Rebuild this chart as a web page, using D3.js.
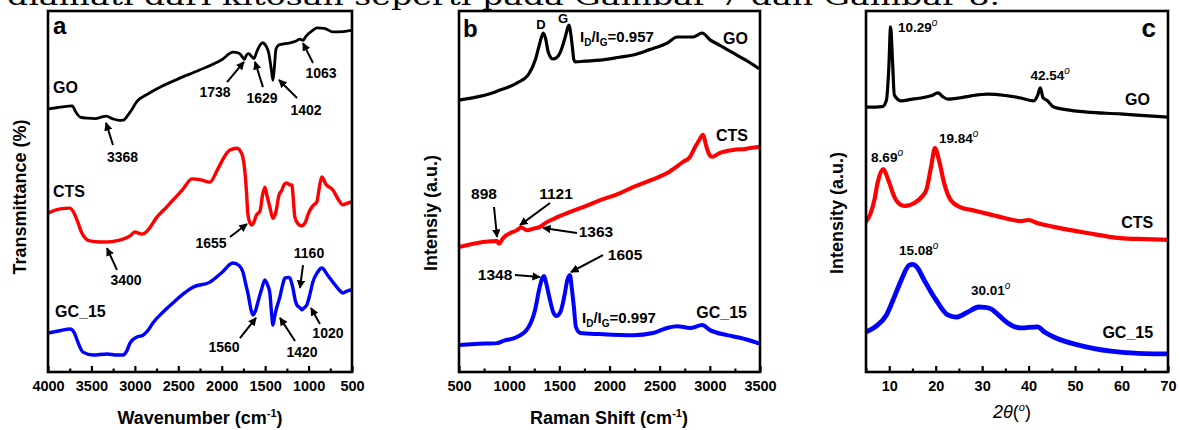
<!DOCTYPE html>
<html><head><meta charset="utf-8">
<script src="https://cdn.jsdelivr.net/npm/d3@7"></script>
<style>body{margin:0;background:#fff}svg{display:block}text{font-family:"Liberation Sans",Arial,sans-serif}</style>
</head><body><svg id="chart" width="1180" height="430"></svg>
<script>
// ---------- DATA ----------
// Panel a: FTIR (wavenumber cm-1, transmittance a.u.)
const ftirGO = [[4000,72.9],[3900,73.2],[3780,73.6],[3720,73.7],[3680,72],[3630,70.6],[3550,70.3],[3450,70.2],[3400,70.5],[3330,70.9],[3260,70.2],[3180,69.7],[3130,69.8],[3090,70.8],[3040,72.5],[2980,74.8],[2850,77],[2700,79],[2500,81.2],[2250,83.7],[2000,86.5],[1870,88.6],[1800,88.3],[1760,87.2],[1738,86.6],[1715,87.8],[1690,88.2],[1655,87.4],[1629,86.8],[1600,88.5],[1560,90.5],[1530,91.2],[1490,90.3],[1460,88.5],[1430,84],[1410,80.8],[1395,84],[1375,89.5],[1340,90.6],[1250,91],[1150,91.6],[1100,92.2],[1063,91.9],[1030,93],[960,94.5],[900,95.3],[820,95.2],[720,94.2],[600,94.3],[500,94.7]];
const ftirCTS = [[4000,44],[3860,45.2],[3750,45.4],[3700,44],[3666,42.1],[3610,38.5],[3520,36.3],[3400,36],[3320,36],[3200,36.4],[3137,36.8],[3050,37.8],[2999,38.8],[2960,38.5],[2918,38.2],[2870,38.8],[2849,39.3],[2746,42.9],[2650,45.3],[2562,47.6],[2450,50.5],[2343,53.5],[2250,53.3],[2136,52.6],[2050,56],[1960,60],[1906,61.5],[1825,62],[1770,60.5],[1740,57],[1715,50],[1700,44],[1676,41.3],[1655,40.7],[1630,41.5],[1600,43.5],[1560,44.5],[1530,49],[1503,51.2],[1480,49],[1446,45.7],[1411,42.6],[1380,44],[1340,49],[1307,50.4],[1280,52],[1250,52.4],[1210,51.8],[1192,51.8],[1170,46],[1158,42.9],[1120,41],[1080,40.5],[1043,41.2],[1000,44],[962,45.7],[930,46.5],[905,47.1],[870,52],[847,54],[800,52],[720,50.4],[650,47.5],[605,46.3],[550,46.8],[502,47.1]];
const ftirGC15 = [[4000,10.8],[3850,11.5],[3747,11.9],[3700,11],[3666,8.9],[3597,5.5],[3482,4.7],[3321,5.0],[3206,4.7],[3137,4.7],[3090,6],[3056,8.0],[2976,9.7],[2907,10.2],[2850,11.5],[2792,13.6],[2680,16.5],[2562,19.1],[2450,21.5],[2331,23.5],[2136,24.9],[2000,27.5],[1871,30.2],[1800,29.5],[1756,27.7],[1720,24],[1699,21.9],[1660,17],[1641,15.8],[1610,17],[1583,19.4],[1540,23],[1503,25.5],[1470,24],[1446,21.9],[1425,16],[1411,13.0],[1390,15.5],[1365,18],[1330,20.8],[1300,24],[1273,26],[1230,26.2],[1215,26],[1181,23.3],[1150,19.5],[1135,18.6],[1100,17.8],[1077,17.2],[1050,17.8],[1020,18.6],[980,22],[951,24.9],[900,27.5],[847,28.8],[780,26.8],[720,24.9],[650,22.8],[605,21.9],[550,22.5],[502,22.7]];
// Panel b: Raman (shift cm-1, intensity a.u.)
const ramanGO = [[500,75.3],[680,76.2],[800,77],[910,78.1],[1000,79],[1080,80.1],[1190,82.3],[1260,86.4],[1300,90.5],[1340,93.9],[1362,92.5],[1390,88.6],[1437,86.7],[1470,87],[1507,88.4],[1540,91],[1565,93.4],[1595,96.1],[1615,93.5],[1630,90],[1645,86.5],[1660,85.9],[1750,86.1],[1906,86.4],[2100,87.2],[2235,87.8],[2400,89.3],[2574,91.1],[2674,92.8],[2833,92.8],[2923,93.9],[3002,92],[3100,90.5],[3232,88.4],[3350,86.5],[3481,84.2]];
const ramanCTS = [[500,34.6],[740,36],[880,36.3],[898,35.5],[915,36],[940,37.1],[1078,39.3],[1121,40],[1178,39.3],[1250,39.8],[1308,40.2],[1363,41.3],[1450,42.5],[1577,44],[1750,45.8],[1906,47.6],[2100,49.5],[2235,51.2],[2400,53],[2574,55.1],[2733,58.2],[2800,59.5],[2853,62.3],[2883,63.7],[2933,65.7],[2960,63],[2990,60.5],[3022,59.6],[3102,60.7],[3232,61.5],[3350,61.8],[3481,62.3]];
const ramanGC15 = [[500,7.5],[700,7.8],[880,8],[950,8.7],[1078,9.7],[1188,12.2],[1258,17.2],[1300,23],[1330,26],[1348,26.6],[1370,24.5],[1400,20.8],[1440,16.5],[1470,15.5],[1510,16.6],[1550,21],[1580,25.5],[1605,26.9],[1625,23],[1645,18],[1665,12.5],[1710,10.8],[1906,10.5],[2235,10.2],[2434,10.8],[2574,12.2],[2674,12.7],[2803,12.2],[2923,13],[3002,11.6],[3172,10.2],[3300,9.5],[3481,8]];
// Panel c: XRD (2theta deg, intensity a.u.)
const xrdGO = [[5,73.4],[7,73.4],[8.5,73.5],[9.4,75.3],[9.9,84],[10.29,95.6],[10.7,86.4],[11.1,76.7],[12.6,75.1],[15,75.6],[16.9,75.9],[19,76.5],[20.5,77.3],[21.5,76.3],[22.6,75.6],[25,75.9],[27.6,76.5],[31.2,77],[35,76.6],[38.3,75.9],[41.1,75.1],[41.9,76.5],[42.54,78.7],[43.1,76],[44,75.2],[45.4,73.4],[48,72.7],[52.6,72.0],[59.7,71.5],[65,71],[70,70.6]];
const xrdCTS = [[5,41.6],[6,44],[6.8,47.6],[7.5,52.4],[8.69,56.2],[9.8,53.2],[11.1,48.5],[12.5,46.3],[13.5,46],[15.4,46.8],[17,48.5],[18,50.5],[19,56.8],[19.84,62],[20.7,58.7],[21.8,52.4],[23.3,47.5],[25.4,45.6],[27.6,44.9],[31.2,43.8],[35,42.6],[38.3,41.8],[40,42.1],[42,41.2],[45.4,40.2],[52.6,38.5],[59.7,37.1],[65,36.8],[70,36.6]];
const xrdGC15 = [[5,11.1],[7.2,12.7],[9.4,15.8],[11.1,20.8],[12.6,25.5],[14.3,29.6],[15.08,29.8],[16,29],[17.5,25.5],[20.1,19.9],[22.6,15.8],[24.4,15.2],[26.9,16.6],[29.3,18],[30.5,17.9],[31.9,17.5],[33.5,15.8],[35.5,13.6],[38.3,12.2],[41.9,12.5],[43.5,11],[45.4,9.7],[52.6,6.9],[59.7,5.5],[65,5.1],[70,5.0]];

// tick labels
const ticksA = [4000,3500,3000,2500,2000,1500,1000,500];
const minorA = [3750,3250,2750,2250,1750,1250,750];
const ticksB = [500,1000,1500,2000,2500,3000,3500];
const minorB = [750,1250,1750,2250,2750,3250];
const ticksC = [10,20,30,40,50,60,70];
const minorC = [5,15,25,35,45,55,65];

// annotations (data units)
const notesA = [
  {t:"3368", x:3142, y:58.2, tail:[3252,62.9], head:[3332,69.0]},
  {t:"1738", x:2077, y:76.2, tail:[1939,80.3], head:[1744,85.9]},
  {t:"1629", x:1536, y:74.5, tail:[1525,78.9], head:[1617,85.9]},
  {t:"1402", x:1030, y:71.2, tail:[1133,75.9], head:[1341,80.9]},
  {t:"1063", x:857,  y:81.4, tail:[949,85.6],  head:[1064,91.1]},
  {t:"1655", x:2123, y:34.3, tail:[1905,37.4], head:[1709,41.0]},
  {t:"3400", x:3102, y:24.1, tail:[3206,28.3], head:[3321,34.3]},
  {t:"1160", x:995,  y:31.6, tail:[1064,29.6], head:[1099,23.3]},
  {t:"1560", x:1974, y:5.5,  tail:[1790,9.4],  head:[1605,15.0]},
  {t:"1420", x:1076, y:4.2,  tail:[1156,8.6],  head:[1329,15.0]},
  {t:"1020", x:777,  y:9.4,  tail:[869,13.3],  head:[972,17.7]}
];
const notesB = [
  {t:"898",  x:484+0, y:47.9, tail:[849,45.7],  head:[879,37.4]},
  {t:"1121", x:1467, y:47.9, tail:[1407,46.8], head:[1108,40.7]},
  {t:"1363", x:1865, y:37.4, tail:[1676,38.5], head:[1337,39.9]},
  {t:"1348", x:859,  y:25.5, tail:[1058,26.9], head:[1307,26.3]},
  {t:"1605", x:2155, y:31.0, tail:[1935,32.4], head:[1616,27.7]}
];
notesB[0].x = 749;
const namesA = [{t:"GO",x:3942,y:77.3,a:"start"},{t:"CTS",x:3942,y:48.5,a:"start"},{t:"GC_15",x:3919,y:15.2,a:"start"}];
const namesB = [{t:"GO",x:3380,y:90.9,a:"end"},{t:"CTS",x:3380,y:64.0,a:"end"},{t:"GC_15",x:3370,y:15.0,a:"end"}];
const namesC = [{t:"GO",x:66.1,y:74.0,a:"end"},{t:"CTS",x:66.8,y:39.9,a:"end"},{t:"GC_15",x:66.8,y:9.4,a:"end"}];
const degNotes = [{t:"10.29",x:11.9,y:94.2},{t:"42.54",x:40.4,y:80.9},{t:"19.84",x:20.7,y:63.4},{t:"8.69",x:6.1,y:58.2},{t:"15.08",x:12.1,y:32.4},{t:"30.01",x:27.6,y:21.3}];
const ratioNotes = [{d:"D",g:"G",v:"=0.957",x:1706,y:91.4},{d:"D",g:"G",v:"=0.997",x:1726,y:13.6}];
const dgLabels = [{t:"D",x:1317,y:95.0},{t:"G",x:1537,y:96.7}];

const colors = {GO:"#000000", CTS:"#ff0000", GC15:"#0000ff"};

// ---------- DRAW ----------
const svg = d3.select("#chart");
const TOP = 11, BOT = 372;
const defs = svg.append("defs");
defs.append("marker").attr("id","arr").attr("viewBox","0 0 10 10").attr("refX",9).attr("refY",5)
  .attr("markerWidth",4.2).attr("markerHeight",4.2).attr("markerUnits","strokeWidth").attr("orient","auto")
  .append("path").attr("d","M0,0L10,5L0,10z").attr("fill","#000");

// caption line cut at top
svg.append("text").attr("x",7).attr("y",5).attr("textLength",993).attr("lengthAdjust","spacingAndGlyphs")
  .style("font-family","'DejaVu Serif',serif").style("font-size","24px").attr("fill","#000")
  .text("diamati dari kitosan seperti pada Gambar 7 dan Gambar 8.");

function panel(id, left, right, xdom, major, minor, series, widths) {
  const g = svg.append("g");
  const x = d3.scaleLinear().domain(xdom).range([left,right]);
  const y = d3.scaleLinear().domain([0,100]).range([BOT,TOP]);
  defs.append("clipPath").attr("id","clip"+id).append("rect").attr("x",left).attr("y",TOP).attr("width",right-left).attr("height",BOT-TOP);
  const line = d3.line().x(d=>x(d[0])).y(d=>y(d[1])).curve(d3.curveMonotoneX);
  const lg = g.append("g").attr("clip-path",`url(#clip${id})`);
  series.forEach((s,i)=>{
    lg.append("path").attr("d",line(s.data)).attr("fill","none").attr("stroke",s.color)
      .attr("stroke-width",widths[i]).attr("stroke-linejoin","round").attr("stroke-linecap","round");
  });
  const ax = g.append("g").attr("transform",`translate(0,${BOT})`)
    .call(d3.axisBottom(x).tickValues(major).tickSizeInner(-6).tickSizeOuter(0).tickPadding(9).tickFormat(d3.format("d")));
  ax.select(".domain").remove();
  ax.selectAll("line").attr("stroke-width",2.2);
  ax.selectAll("text").style("font-size","14.5px").style("font-weight","bold").attr("fill","#000");
  const mx = g.append("g").attr("transform",`translate(0,${BOT})`)
    .call(d3.axisBottom(x).tickValues(minor).tickSizeInner(-3.5).tickSizeOuter(0).tickFormat(""));
  mx.select(".domain").remove();
  mx.selectAll("line").attr("stroke-width",2.2);
  g.append("rect").attr("x",left).attr("y",TOP).attr("width",right-left).attr("height",BOT-TOP)
    .attr("fill","none").attr("stroke","#000").attr("stroke-width",2.6);
  return {g,x,y};
}

function bold(g, t, x, y, size, anchor) {
  return g.append("text").attr("x",x).attr("y",y).attr("text-anchor",anchor||"start")
    .style("font-size",size+"px").style("font-weight","bold").attr("fill","#000").text(t);
}
function arrows(P, notes, size) {
  notes.forEach(n=>{
    bold(P.g, n.t, P.x(n.x), P.y(n.y), size, "middle");
    P.g.append("line").attr("x1",P.x(n.tail[0])).attr("y1",P.y(n.tail[1]))
      .attr("x2",P.x(n.head[0])).attr("y2",P.y(n.head[1]))
      .attr("stroke","#000").attr("stroke-width",2).attr("marker-end","url(#arr)");
  });
}

// Panel a
const A = panel("a",48,352,[4000,500],ticksA,minorA,
  [{data:ftirGO,color:colors.GO},{data:ftirCTS,color:colors.CTS},{data:ftirGC15,color:colors.GC15}],[2.8,3.4,3.4]);
bold(A.g,"a",A.x(3942),A.y(93.6),24);
namesA.forEach(n=>bold(A.g,n.t,A.x(n.x),A.y(n.y),16,n.a));
arrows(A, notesA, 14);
const tA = bold(A.g,"Wavenumber (cm",200,424,18,"middle");
tA.append("tspan").attr("dy",-7).style("font-size","11px").text("-1");
tA.append("tspan").attr("dy",7).text(")");
svg.append("text").attr("transform","translate(26,197) rotate(-90)").attr("text-anchor","middle")
  .style("font-size","18px").style("font-weight","bold").text("Transmittance (%)");

// Panel b
const B = panel("b",459,760,[500,3500],ticksB,minorB,
  [{data:ramanGO,color:colors.GO},{data:ramanCTS,color:colors.CTS},{data:ramanGC15,color:colors.GC15}],[3.2,4,4]);
bold(B.g,"b",B.x(540),B.y(92.8),24);
namesB.forEach(n=>bold(B.g,n.t,B.x(n.x),B.y(n.y),16,n.a));
dgLabels.forEach(n=>bold(B.g,n.t,B.x(n.x),B.y(n.y),13,"middle"));
ratioNotes.forEach(n=>{
  const t = bold(B.g,"I",B.x(n.x),B.y(n.y),15);
  t.append("tspan").attr("dy",4).style("font-size","10px").text(n.d);
  t.append("tspan").attr("dy",-4).text("/I");
  t.append("tspan").attr("dy",4).style("font-size","10px").text(n.g);
  t.append("tspan").attr("dy",-4).text(n.v);
});
arrows(B, notesB, 15.5);
const tB = bold(B.g,"Raman Shift (cm",609,424,18,"middle");
tB.append("tspan").attr("dy",-7).style("font-size","11px").text("-1");
tB.append("tspan").attr("dy",7).text(")");
svg.append("text").attr("transform","translate(437,213) rotate(-90)").attr("text-anchor","middle")
  .style("font-size","18px").style("font-weight","bold").text("Intensiy (a.u.)");

// Panel c
const C = panel("c",866,1168,[5,70],ticksC,minorC,
  [{data:xrdGO,color:colors.GO},{data:xrdCTS,color:colors.CTS},{data:xrdGC15,color:colors.GC15}],[3.2,4.2,4.8]);
bold(C.g,"c",C.x(67.4),C.y(92.8),26,"end");
namesC.forEach(n=>bold(C.g,n.t,C.x(n.x),C.y(n.y),16,n.a));
degNotes.forEach(n=>{
  const t = bold(C.g,n.t,C.x(n.x),C.y(n.y),13.5);
  t.append("tspan").attr("dy",-6).style("font-size","10px").style("font-style","italic").style("font-weight","normal").text("o");
});
const tC = C.g.append("text").attr("x",1012).attr("y",418).attr("text-anchor","middle").style("font-size","18px");
tC.append("tspan").style("font-style","italic").text("2θ");
tC.append("tspan").text("(");
tC.append("tspan").attr("dy",-7).style("font-size","11px").style("font-style","italic").text("o");
tC.append("tspan").attr("dy",7).text(")");
svg.append("text").attr("transform","translate(843,213) rotate(-90)").attr("text-anchor","middle")
  .style("font-size","18px").style("font-weight","bold").text("Intensity (a.u.)");
</script></body></html>
